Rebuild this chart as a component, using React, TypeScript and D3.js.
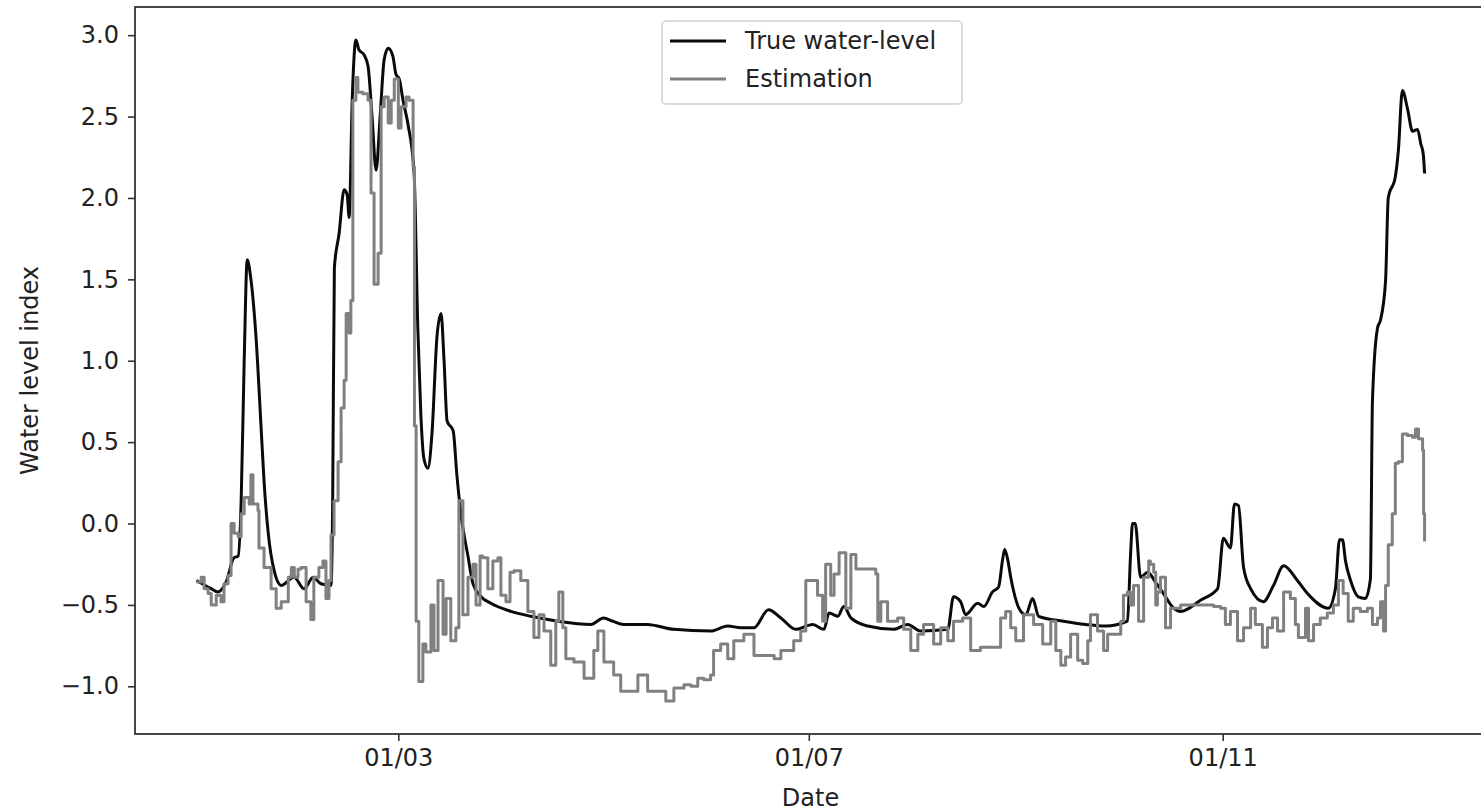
import { useEffect, useRef } from "react";
import * as d3 from "d3";

// day offsets from 1 Jan 2016 and water-level index values
const trueDays = [
  0, 4.4, 6.4, 8.8, 11.2, 12.4, 13.3, 14.2, 15.1, 16.2, 17.7, 19.2, 20.1, 21.3, 23.1, 25.2, 29, 32, 34.7, 37,
  40, 40.5, 41, 42.4, 43.9, 44.8, 45.4, 46.3, 47.4, 48.3, 49.8, 51, 52.2, 53.4, 54.6, 55.8, 57, 58.4, 59.3, 60.3,
  61.4, 62.9, 64.7, 65.8, 66.7, 67.6, 68.8, 70, 71.5, 72.7, 73.6, 74.5, 76.3, 77.4, 78.6, 80.7, 82.2, 84.6, 87.5, 93.5,
  99.4, 107.4, 117.2, 121, 123.7, 127, 134, 141.9, 152.8, 157.9, 161.8, 165.7, 170, 173.7, 178.1, 183.2, 186.5, 188, 190.6, 192.4,
  194.5, 199.5, 207.2, 211.4, 215.2, 223.3, 225, 227.1, 228.6, 232.2, 234, 236.6, 238.4, 239.6, 240.2, 241.1, 242, 245, 246.5, 248.5,
  250.3, 257.7, 264.3, 270.2, 276.7, 277.6, 278.2, 279, 280.6, 282.7, 285, 287.4, 290.4, 292.5, 298.5, 303.5, 305.2, 307.3, 308.5, 309.7,
  311.2, 313.3, 317.1, 320.1, 323.1, 327.2, 330.2, 336.4, 338.5, 339.7, 340.6, 341.5, 343, 345.3, 347.4, 348.9, 349.5, 351, 351.9, 353.4,
  354.2, 356.3, 357.2, 358.4, 359.9, 361.4, 362.9, 363.9, 364.6, 365,
];
const trueLevel = [
  -0.35, -0.4, -0.42, -0.36, -0.21, -0.2, 0.14, 1.0, 1.62, 1.5, 1.15, 0.6, 0.26, -0.05, -0.29, -0.38, -0.33, -0.4, -0.33, -0.37,
  -0.38, 0.14, 1.57, 1.78, 2.05, 2.02, 1.88, 2.6, 2.97, 2.91, 2.88, 2.81, 2.5, 2.17, 2.5, 2.85, 2.92, 2.87, 2.76, 2.73,
  2.6, 2.45, 2.15, 1.2, 0.67, 0.4, 0.34, 0.55, 1.15, 1.29, 1.0, 0.63, 0.57, 0.3, 0.06, -0.2, -0.37, -0.45, -0.49, -0.54,
  -0.57, -0.6, -0.62, -0.58, -0.6, -0.62, -0.62, -0.65, -0.66, -0.63, -0.64, -0.64, -0.53, -0.58, -0.65, -0.62, -0.65, -0.55, -0.57, -0.51,
  -0.58, -0.63, -0.65, -0.62, -0.66, -0.65, -0.45, -0.48, -0.56, -0.49, -0.51, -0.42, -0.39, -0.22, -0.16, -0.22, -0.33, -0.54, -0.56, -0.46,
  -0.57, -0.6, -0.62, -0.63, -0.6, -0.2, 0.0, 0.0, -0.33, -0.3, -0.36, -0.43, -0.52, -0.54, -0.47, -0.4, -0.09, -0.15, 0.12, 0.11,
  -0.27, -0.4, -0.48, -0.38, -0.26, -0.35, -0.43, -0.52, -0.4, -0.1, -0.1, -0.23, -0.35, -0.45, -0.46, -0.34, 0.75, 1.2, 1.25, 1.49,
  2.0, 2.13, 2.29, 2.66, 2.55, 2.41, 2.42, 2.33, 2.27, 2.15,
];

const estDays = [
  0, 1.4, 2.3, 3.5, 4.4, 5.9, 7.3, 8.2, 9.4, 10.3, 11.2, 12.4, 13.3, 14.2, 15.7, 16.2, 16.8, 17.7, 18.3, 18.6,
  20.1, 22.2, 23.7, 25.2, 27.3, 28.2, 29.1, 30.2, 31.1, 32.6, 34, 34.9, 36.4, 37.6, 38.5, 39.4, 40, 40.9, 42.1, 43,
  43.9, 44.5, 45.4, 45.9, 46.5, 47.4, 48, 49.5, 51, 51.9, 52.8, 54, 54.9, 55.8, 57, 57.9, 58.8, 60, 60.8, 62.3,
  63.2, 64.4, 64.8, 65.3, 66.1, 67.3, 68.2, 69.7, 70.6, 71.8, 73.3, 74.2, 75.6, 77.1, 78, 79.2, 80.7, 82.2, 83.1, 84.3,
  85.1, 86.6, 88.1, 89.6, 90.5, 92, 93.2, 94.4, 96.4, 98.5, 100.3, 101.8, 103.3, 105.3, 106.8, 107.7, 108.9, 109.8, 112.2, 115.2,
  118.1, 119.3, 121.1, 124, 126.1, 129.1, 131.2, 134.1, 137.1, 139.5, 141.9, 144.9, 147, 149, 150.8, 152.8, 153.7, 155.8, 157.9, 159.7,
  162.7, 165.7, 169.8, 171.7, 173.7, 175.8, 177.5, 179.6, 181.1, 182.6, 184.6, 186.1, 187, 188.5, 189.5, 191, 192.4, 193, 194.5, 196,
  201.9, 202.5, 203.4, 205.4, 208.4, 210.2, 212.3, 214.4, 216.1, 219.1, 221.2, 223.3, 225, 227.7, 230.1, 233, 236, 239, 240.5, 242,
  243.5, 245.8, 248.8, 251.5, 253.9, 255.4, 256.9, 258.3, 259.8, 261.9, 263.4, 264.9, 265.7, 267.8, 269.6, 270.8, 272.6, 274.7, 275.5, 276.7,
  277.6, 278.5, 280, 281.5, 283, 283.5, 284.5, 285.1, 285.6, 286.5, 288, 289.5, 292.5, 302.3, 304.4, 305.8, 307.3, 309.4, 311.2, 313.3,
  314.7, 316.8, 318.3, 319.8, 321.3, 323.1, 325.1, 326.6, 327.5, 329.6, 330.5, 332, 334, 336.1, 337.9, 339.4, 340.8, 342.3, 343.8, 345.9,
  348, 349.5, 351, 351.9, 352.8, 353.4, 354.2, 355.4, 356.3, 357.2, 358.4, 359.9, 361.4, 362.3, 363.2, 364.4, 364.7, 365,
];
const estLevel = [
  -0.36, -0.33, -0.4, -0.43, -0.5, -0.44, -0.48, -0.37, -0.32, 0.0, -0.06, -0.08, 0.06, 0.16, 0.12, 0.3, 0.12, 0.12, 0.08, -0.15,
  -0.27, -0.4, -0.52, -0.48, -0.33, -0.27, -0.33, -0.28, -0.27, -0.48, -0.59, -0.33, -0.27, -0.23, -0.46, -0.35, -0.07, 0.14, 0.38, 0.71,
  0.88, 1.29, 1.17, 1.37, 2.6, 2.74, 2.65, 2.64, 2.6, 2.03, 1.47, 1.66, 2.56, 2.62, 2.46, 2.6, 2.73, 2.43, 2.56, 2.62,
  2.6, 2.19, 0.6, -0.6, -0.97, -0.74, -0.79, -0.5, -0.78, -0.35, -0.68, -0.46, -0.72, -0.64, 0.14, -0.56, -0.33, -0.25, -0.5, -0.2,
  -0.21, -0.4, -0.23, -0.21, -0.44, -0.48, -0.3, -0.29, -0.35, -0.54, -0.7, -0.56, -0.66, -0.87, -0.6, -0.42, -0.64, -0.83, -0.85, -0.95,
  -0.78, -0.66, -0.85, -0.93, -1.03, -1.03, -0.93, -1.03, -1.03, -1.09, -1.01, -0.99, -1.0, -0.95, -0.96, -0.93, -0.78, -0.74, -0.83, -0.72,
  -0.68, -0.81, -0.81, -0.83, -0.78, -0.78, -0.72, -0.66, -0.35, -0.35, -0.44, -0.6, -0.25, -0.44, -0.31, -0.18, -0.18, -0.52, -0.19, -0.28,
  -0.31, -0.6, -0.48, -0.6, -0.58, -0.65, -0.78, -0.68, -0.62, -0.74, -0.64, -0.72, -0.6, -0.58, -0.78, -0.76, -0.76, -0.58, -0.54, -0.64,
  -0.72, -0.56, -0.62, -0.74, -0.6, -0.78, -0.87, -0.82, -0.68, -0.84, -0.86, -0.72, -0.56, -0.66, -0.78, -0.68, -0.68, -0.6, -0.44, -0.42,
  -0.5, -0.38, -0.6, -0.33, -0.23, -0.25, -0.3, -0.5, -0.42, -0.33, -0.64, -0.52, -0.5, -0.51, -0.52, -0.62, -0.54, -0.72, -0.64, -0.52,
  -0.62, -0.76, -0.64, -0.58, -0.66, -0.42, -0.46, -0.62, -0.7, -0.52, -0.72, -0.62, -0.58, -0.55, -0.5, -0.35, -0.43, -0.6, -0.52, -0.54,
  -0.52, -0.62, -0.58, -0.48, -0.66, -0.38, -0.13, 0.06, 0.37, 0.38, 0.55, 0.54, 0.53, 0.58, 0.52, 0.45, 0.06, -0.11,
];

const xTickDates = ["2016-03-01", "2016-07-01", "2016-11-01"];
const yTicks = [-1.0, -0.5, 0.0, 0.5, 1.0, 1.5, 2.0, 2.5, 3.0];
const seriesNames = ["True water-level", "Estimation"];

type Pt = { date: Date; v: number };

const start = new Date(2016, 0, 1).getTime();
const toDate = (day: number) => new Date(start + day * 864e5);

export default function App() {
  const ref = useRef<SVGSVGElement>(null);

  useEffect(() => {
    if (!ref.current) return;
    const width = 1481;
    const height = 812;
    const left = 135;
    const right = 1486; // right spine sits just past the picture edge
    const top = 7;
    const bottom = 734;
    const font = "DejaVu Sans";
    const black = "#0a0a0a";
    const grey = "#808080";

    const trueData: Pt[] = trueDays.map((d, i) => ({ date: toDate(d), v: trueLevel[i] }));
    const estData: Pt[] = estDays.map((d, i) => ({ date: toDate(d), v: estLevel[i] }));
    const all = trueData.concat(estData);

    // matplotlib-like 5% margins
    const [t0, t1] = d3.extent(all, (d) => d.date.getTime()) as [number, number];
    const [v0, v1] = d3.extent(all, (d) => d.v) as [number, number];
    const tPad = (t1 - t0) * 0.05;
    const vPad = (v1 - v0) * 0.05;

    const x = d3.scaleTime().domain([new Date(t0 - tPad), new Date(t1 + tPad)]).range([left, right]);
    const y = d3.scaleLinear().domain([v0 - vPad, v1 + vPad]).range([bottom, top]);

    const svg = d3.select(ref.current);
    svg.selectAll("*").remove();
    svg.attr("width", width).attr("height", height);

    svg.append("rect").attr("width", width).attr("height", height).attr("fill", "#fff");

    const smooth = d3
      .line<Pt>()
      .curve(d3.curveMonotoneX)
      .x((d) => x(d.date))
      .y((d) => y(d.v));

    const steps = d3
      .line<Pt>()
      .curve(d3.curveStepAfter)
      .x((d) => x(d.date))
      .y((d) => y(d.v));

    svg
      .append("path")
      .datum(trueData)
      .attr("fill", "none")
      .attr("stroke", black)
      .attr("stroke-width", 3)
      .attr("stroke-linejoin", "round")
      .attr("d", smooth);

    svg
      .append("path")
      .datum(estData)
      .attr("fill", "none")
      .attr("stroke", grey)
      .attr("stroke-width", 3)
      .attr("stroke-linejoin", "round")
      .attr("d", steps);

    // y axis
    const yAxis = d3
      .axisLeft(y)
      .tickValues(yTicks)
      .tickSize(7)
      .tickPadding(9)
      .tickFormat((d) => (d as number).toFixed(1).replace("-", "\u2212"));
    const yg = svg.append("g").attr("transform", `translate(${left},0)`).call(yAxis);
    yg.select(".domain").remove();
    yg.selectAll("line").attr("stroke", "#333").attr("stroke-width", 1.6);
    yg.selectAll("text")
      .attr("fill", "#222")
      .style("font-family", font)
      .style("font-size", "24px");

    // x axis
    const xAxis = d3
      .axisBottom(x)
      .tickValues(xTickDates.map((s) => d3.timeParse("%Y-%m-%d")(s) as Date))
      .tickSize(7)
      .tickPadding(8)
      .tickFormat((d) => d3.timeFormat("%d/%m")(d as Date));
    const xg = svg.append("g").attr("transform", `translate(0,${bottom})`).call(xAxis);
    xg.select(".domain").remove();
    xg.selectAll("line").attr("stroke", "#333").attr("stroke-width", 1.6);
    xg.selectAll("text")
      .attr("fill", "#222")
      .style("font-family", font)
      .style("font-size", "24px");

    // spines
    svg
      .append("rect")
      .attr("x", left)
      .attr("y", top)
      .attr("width", right - left)
      .attr("height", bottom - top)
      .attr("fill", "none")
      .attr("stroke", "#333")
      .attr("stroke-width", 1.8);

    svg
      .append("text")
      .attr("x", (left + right) / 2)
      .attr("y", 806)
      .attr("text-anchor", "middle")
      .attr("fill", "#222")
      .style("font-family", font)
      .style("font-size", "24px")
      .text("Date");

    svg
      .append("text")
      .attr("transform", `translate(38,${(top + bottom) / 2}) rotate(-90)`)
      .attr("text-anchor", "middle")
      .attr("fill", "#222")
      .style("font-family", font)
      .style("font-size", "24px")
      .text("Water level index");

    // legend
    const lg = svg.append("g").attr("transform", "translate(662,21)");
    lg.append("rect")
      .attr("width", 300)
      .attr("height", 83)
      .attr("rx", 4)
      .attr("fill", "#fff")
      .attr("fill-opacity", 0.8)
      .attr("stroke", "#d0d0d0")
      .attr("stroke-width", 1.5);
    const colors = [black, grey];
    seriesNames.forEach((name, i) => {
      const cy = 20 + i * 38;
      lg.append("line")
        .attr("x1", 8)
        .attr("x2", 64)
        .attr("y1", cy)
        .attr("y2", cy)
        .attr("stroke", colors[i])
        .attr("stroke-width", 3);
      lg.append("text")
        .attr("x", 83)
        .attr("y", cy)
        .attr("dy", "0.35em")
        .attr("fill", "#222")
        .style("font-family", font)
        .style("font-size", "24px")
        .text(name);
    });
  }, []);

  return <svg ref={ref} style={{ position: "absolute", left: 0, top: 0 }} />;
}
